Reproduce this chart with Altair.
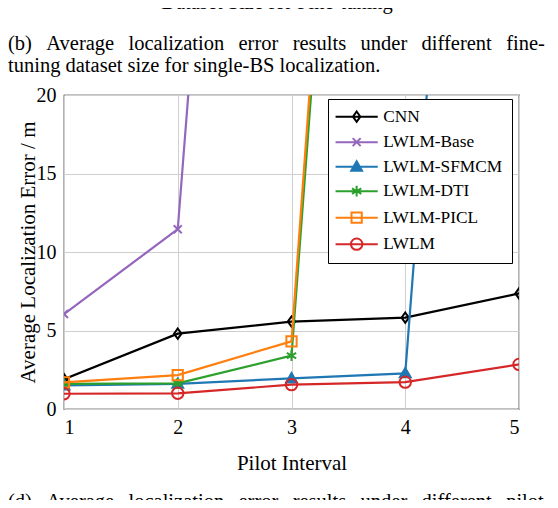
import altair as alt
import pandas as pd

# ---- data ----
pilot_interval = [1, 2, 3, 4, 5]
series_names = ["CNN", "LWLM-Base", "LWLM-SFMCM", "LWLM-DTI", "LWLM-PICL", "LWLM"]
cnn = [1.9, 4.8, 5.57, 5.82, 7.36]
lwlm_base = [6.05, 11.45, 104.0, None, None]
lwlm_sfmcm = [1.5, 1.6, 1.95, 2.27, 96.0]
lwlm_dti = [1.6, 1.63, 3.4, 100.0, None]
lwlm_picl = [1.69, 2.16, 4.31, 104.0, None]
lwlm = [0.97, 1.0, 1.55, 1.71, 2.84]
all_values = [cnn, lwlm_base, lwlm_sfmcm, lwlm_dti, lwlm_picl, lwlm]

y_ticks = [0, 5, 10, 15, 20]
x_ticks = [1, 2, 3, 4, 5]

# ---- styles ----
colors = ["#000000", "#9467bd", "#1f77b4", "#2ca02c", "#ff7f0e", "#d62728"]
fills = ["transparent", "transparent", "#1f77b4", "transparent", "transparent", "transparent"]
marker_paths = [
    "M0,-0.9L0.65,0L0,0.9L-0.65,0Z",
    "M-0.7,-0.7L0.7,0.7M-0.7,0.7L0.7,-0.7",
    "M0,-0.95L0.95,0.7L-0.95,0.7Z",
    "M0,-0.95L0,0.95M-0.82,-0.47L0.82,0.47M-0.82,0.47L0.82,-0.47",
    "M-0.9,-0.9L0.9,-0.9L0.9,0.9L-0.9,0.9Z",
    "M1,0A1,1 0 1,1 -1,0A1,1 0 1,1 1,0Z",
]
LINE = "M-3.7,0L3.7,0"
legend_paths = [LINE + p for p in marker_paths]

FONT = "Liberation Serif"
GAP = "\u2002\u2009"

rows = []
for name, vals in zip(series_names, all_values):
    for xv, yv in zip(pilot_interval, vals):
        if yv is not None:
            rows.append({"x": xv, "y": yv, "series": name})
df = pd.DataFrame(rows)

x_enc = alt.X("x:Q", scale=alt.Scale(domain=[1, 5], nice=False),
              axis=alt.Axis(values=x_ticks, format="d", title="Pilot Interval",
                            titleX=227.5, titleY=54, titleBaseline="middle",
                            labelPadding=8))
y_enc = alt.Y("y:Q", scale=alt.Scale(domain=[0, 20], nice=False),
              axis=alt.Axis(values=y_ticks, title="Average Localization Error / m",
                            titleX=-36, titleY=157, titleBaseline="middle",
                            labelPadding=8))

base = alt.Chart(df)
layers = []
for name, col, fil, path in zip(series_names, colors, fills, marker_paths):
    sub = base.transform_filter(alt.datum.series == name)
    layers.append(sub.mark_line(color=col, strokeWidth=2.2, clip=True).encode(x=x_enc, y=y_enc))
    layers.append(sub.mark_point(shape=path, stroke=col, fill=fil, strokeWidth=2,
                                 size=130, opacity=1, clip=True).encode(x=x_enc, y=y_enc))

legend_layer = base.transform_filter("false").mark_point(strokeWidth=2, opacity=1).encode(
    x=x_enc, y=y_enc,
    shape=alt.Shape("series:N", scale=alt.Scale(domain=series_names, range=legend_paths),
                    legend=alt.Legend(title=None, orient="none", legendX=264, legendY=4,
                                      symbolSize=130, symbolStrokeWidth=2, symbolOffset=11,
                                      labelFont=FONT, labelFontSize=17.3, labelColor="black",
                                      labelOffset=18, rowPadding=6.5, padding=9,
                                      strokeColor="black", fillColor="white",
                                      labelLimit=300)),
    stroke=alt.Stroke("series:N", scale=alt.Scale(domain=series_names, range=colors)),
    fill=alt.Fill("series:N", scale=alt.Scale(domain=series_names, range=fills)),
)

captions_text = [
    "Dataset Size for Fine-tuning",
    GAP.join("(b) Average localization error results under different fine-".split(" ")),
    "tuning dataset size for single-BS localization.",
    GAP.join("(d) Average localization error results under different pilot".split(" ")),
]
captions_x = [213, -56, -56, -56]
captions_y = [-86, -45, -23, 413]
captions_align = ["center", "left", "left", "left"]

cap_layers = []
for t, cx, cy, ca in zip(captions_text, captions_x, captions_y, captions_align):
    cap_layers.append(
        alt.Chart(pd.DataFrame({"t": [t]})).mark_text(
            font=FONT, fontSize=20.5, color="black", align=ca, baseline="alphabetic"
        ).encode(text="t:N", x=alt.value(cx), y=alt.value(cy))
    )

chart = alt.layer(*layers, legend_layer, *cap_layers).properties(
    width=455, height=314,
    autosize=alt.AutoSizeParams(type="none"),
    padding={"left": 56, "top": 87, "right": 31, "bottom": 91},
).configure_view(stroke="black", strokeWidth=1.2).configure_axis(
    labelFont=FONT, titleFont=FONT, labelFontSize=20, titleFontSize=21,
    titleFontWeight="normal", labelColor="black", titleColor="black",
    grid=True, gridColor="#cfcfcf", gridWidth=1, ticks=False, domain=False,
)

chart.save("out.html", embed_options={"renderer": "svg", "actions": False})
